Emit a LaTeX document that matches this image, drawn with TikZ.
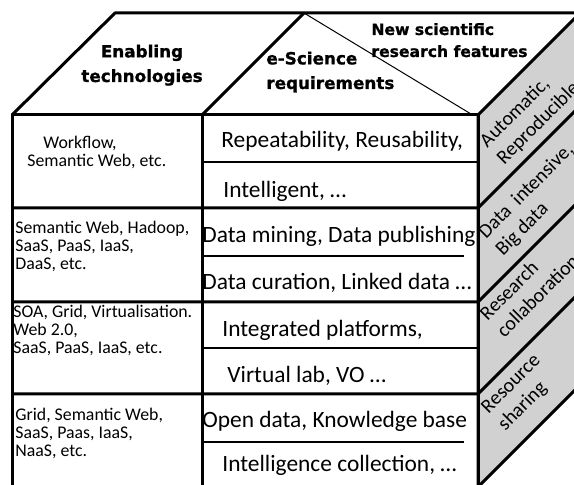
\documentclass[tikz,border=0pt]{standalone}
\usepackage{fontspec}
\setmainfont{Carlito}
\newfontfamily\headfont{DejaVu Sans}[BoldFeatures={FakeBold=1}]
\usetikzlibrary{positioning}

\begin{document}
\begin{tikzpicture}
[x=0.5pt,y=-0.5pt,
 edge/.style={line width=1.5pt,line join=round},
 rule/.style={line width=1pt},
 head/.style={inner sep=0pt,font=\headfont\bfseries\fontsize{8.4}{12.3}\selectfont},
 headsmall/.style={inner sep=0pt,font=\headfont\bfseries\fontsize{7.8}{11}\selectfont},
 req/.style={inner sep=0pt,anchor=base west,font=\fontsize{11.7}{14}\selectfont},
 tech/.style={inner sep=0pt,anchor=base west,align=left,font=\fontsize{8.9}{9.2}\selectfont},
 feat/.style={inner sep=0pt,rotate=45,align=left,font=\fontsize{10}{12}\selectfont}]

\clip (0,0) rectangle (574,485);

% corners of the box
\coordinate (ftl) at (12,115);
\coordinate (ftm) at (202,115);
\coordinate (ftr) at (478,115);
\coordinate (fbl) at (12,487);
\coordinate (fbm) at (202,487);
\coordinate (fbr) at (478,487);
\coordinate (btl) at (115,13);
\coordinate (btm) at (304,13);
\coordinate (btr) at (580,13);
\coordinate (bbr) at (580,385);
\coordinate (tip) at (471,114);

% side face
\filldraw[edge,fill=black!18] (ftr) -- (btr) -- (bbr) -- (fbr) -- cycle;
% top face
\draw[edge] (ftl) -- (btl) -- (btr);
\draw[edge] (ftm) -- (btm);
\draw[line width=0.5pt] (btm) -- (tip);
% front face
\draw[edge] (fbl) -- (ftl) -- (ftr) -- (fbr);
\draw[edge] (ftm) -- (fbm);

% rows
\foreach \y in {208,302,394}
  \draw[edge] (12,\y) -- (478,\y) -- ++(102,-102);
\foreach \y/\e in {162/478,256/464,348/478,442/464}
  \draw[rule] (202,\y) -- (\e,\y);

% headings (anchored at the last line)
\node[head,align=center,anchor=base] (enab) at (142,82) {Enabling\\technologies};
\node[head,align=left,anchor=base west] (escience) at (266,89) {e-Science\\requirements};
\node[headsmall,align=left,anchor=base west] (newres) at (371,57) {New scientific\\research features};

% enabling technologies
\node[tech] (tech1) at (27,167) {\hspace*{8pt}Workflow,\\Semantic Web, etc.};
\node[tech] (tech2) at (15,270) {Semantic Web, Hadoop,\\SaaS, PaaS, IaaS,\\DaaS, etc.};
\node[tech] (tech3) at (13,354) {SOA, Grid, Virtualisation.\\Web 2.0,\\SaaS, PaaS, IaaS, etc.};
\node[tech] (tech4) at (15,457) {Grid, Semantic Web,\\SaaS, Paas, IaaS,\\NaaS, etc.};

% requirements
\node[req] (req1) at (221,148) {Repeatability, Reusability,};
\node[req] (req2) at (223,198) {Intelligent, …};
\node[req] (req3) at (202,243) {Data mining, Data publishing};
\node[req] (req4) at (202,290) {Data curation, Linked data …};
\node[req] (req5) at (222,337) {Integrated platforms,};
\node[req] (req6) at (227,383) {Virtual lab, VO …};
\node[req] (req7) at (202,428) {Open data, Knowledge base};
\node[req] (req8) at (222,472) {Intelligence collection, …};

% research features
\node[feat] (feat1) at (530,115) {Automatic,\\Reproducible};
\node[feat] (feat2) at (535,200) {Data~ intensive,\\Big data};
\node[feat] (feat3) at (529,287) {Research\\collaboration};
\node[feat] (feat4) at (520,393) {Resource\\sharing};
\end{tikzpicture}
\end{document}
